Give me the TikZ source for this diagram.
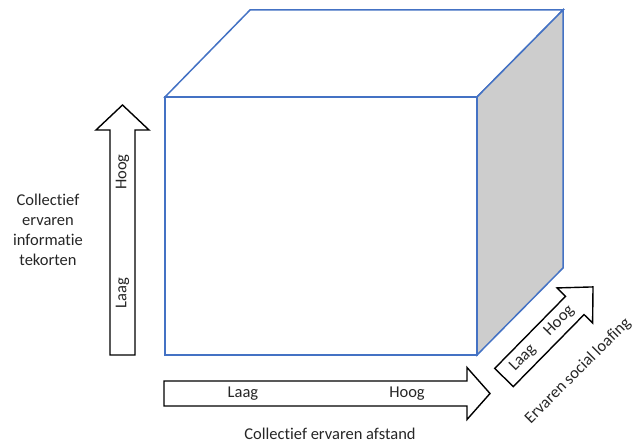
\documentclass[tikz,border=0pt]{standalone}
\usepackage{fontspec}
\setmainfont[Ligatures=NoCommon]{Carlito}
\begin{document}
\begin{tikzpicture}[x=1pt,y=-1pt,
  cubeline/.style={draw=cubeblue,line width=1.5pt,line join=miter},
  fatline/.style={draw=black,line width=1.4pt,fill=white,line join=miter},
  lbl/.style={font=\fontsize{16.5}{20}\selectfont,text=txt,inner sep=0pt,align=center}]
\definecolor{cubeblue}{HTML}{4472C4}
\definecolor{sidegray}{HTML}{CDCDCD}
\definecolor{txt}{HTML}{262626}
\useasboundingbox (0,0) rectangle (634,443);

% cube corners
\coordinate (ftl) at (165,97);
\coordinate (ftr) at (477,97);
\coordinate (fbr) at (477,355);
\coordinate (fbl) at (165,355);
\coordinate (btl) at (250,10);
\coordinate (btr) at (563,10);
\coordinate (bbr) at (563,268);

% cube faces
\path[cubeline,fill=white] (ftl) -- (btl) -- (btr) -- (ftr) -- cycle;
\path[cubeline,fill=sidegray] (ftr) -- (btr) -- (bbr) -- (fbr) -- cycle;
\path[cubeline,fill=white] (ftl) -- (ftr) -- (fbr) -- (fbl) -- cycle;

% vertical block arrow
\begin{scope}[shift={(122.5,355)},rotate=90]
  \path[fatline] (0,-12.5) -- (225,-12.5) -- (225,-26.5) -- (250,0)
    -- (225,26.5) -- (225,12.5) -- (0,12.5) -- cycle;
  \node[lbl,rotate=90] (vlow) at (62,0) {Laag};
  \node[lbl,rotate=90] (vhigh) at (183,0) {Hoog};
\end{scope}

% horizontal block arrow
\begin{scope}[shift={(164,393.5)}]
  \path[fatline] (0,-12.5) -- (303,-12.5) -- (303,-26) -- (326,0)
    -- (303,26) -- (303,12.5) -- (0,12.5) -- cycle;
  \node[lbl] (hlow) at (79,0) {Laag};
  \node[lbl] (hhigh) at (243,0) {Hoog};
\end{scope}

% diagonal block arrow
\begin{scope}[shift={(504,377.5)},rotate=45.5]
  \path[fatline] (0,-13) -- (101,-13) -- (101,-25) -- (127,0)
    -- (101,25) -- (101,13) -- (0,13) -- cycle;
  \node[lbl,rotate=45.5] (dlow) at (27,0) {Laag};
  \node[lbl,rotate=45.5] (dhigh) at (79,0) {Hoog};
\end{scope}

% axis titles
\node[lbl] (ytitle) at (48,230) {Collectief\\ervaren\\informatie\\tekorten};
\node[lbl,anchor=base] (xtitle) at (330,439) {Collectief ervaren afstand};
\node[lbl,rotate=45] (ztitle) at (578,371) {Ervaren social loafing};
\end{tikzpicture}
\end{document}
